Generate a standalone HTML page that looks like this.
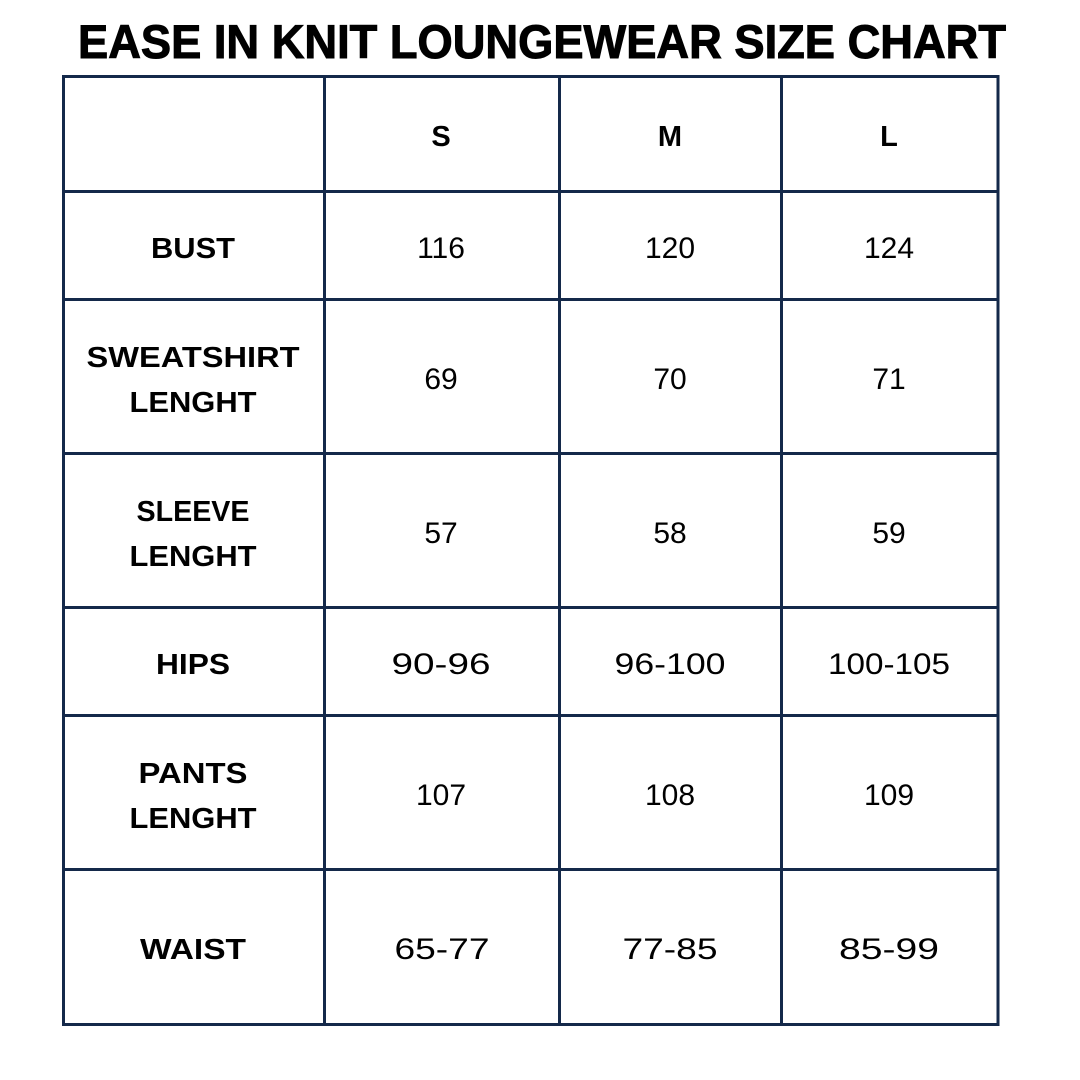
<!DOCTYPE html>
<html><head><meta charset="utf-8"><style>html,body{margin:0;padding:0;background:#fff}svg{display:block}</style></head>
<body>
<svg width="1080" height="1080" viewBox="0 0 1080 1080" xmlns="http://www.w3.org/2000/svg" font-family="Liberation Sans, sans-serif">
<rect width="1080" height="1080" fill="#fff"/>
<text x="542" y="58" text-anchor="middle" font-size="47" font-weight="bold" textLength="928" lengthAdjust="spacingAndGlyphs" fill="#000" stroke="#000" stroke-width="1">EASE IN KNIT LOUNGEWEAR SIZE CHART</text>
<g stroke="#14294a" stroke-width="3" fill="none">
<rect x="63.5" y="76.5" width="934.5" height="948"/>
<line x1="324.5" y1="76" x2="324.5" y2="1025"/>
<line x1="559.5" y1="76" x2="559.5" y2="1025"/>
<line x1="781.5" y1="76" x2="781.5" y2="1025"/>
<line x1="63" y1="191.5" x2="998" y2="191.5"/>
<line x1="63" y1="299.5" x2="998" y2="299.5"/>
<line x1="63" y1="453.5" x2="998" y2="453.5"/>
<line x1="63" y1="607.5" x2="998" y2="607.5"/>
<line x1="63" y1="715.5" x2="998" y2="715.5"/>
<line x1="63" y1="869.5" x2="998" y2="869.5"/>
</g>
<g font-weight="bold" font-size="29" text-anchor="middle" fill="#000" lengthAdjust="spacingAndGlyphs">
<text x="441" y="146">S</text><text x="670" y="146">M</text><text x="889" y="146">L</text>
<text x="193" y="258" textLength="84" lengthAdjust="spacingAndGlyphs">BUST</text>
<text x="193" y="367" textLength="213" lengthAdjust="spacingAndGlyphs">SWEATSHIRT</text>
<text x="193" y="412" textLength="127" lengthAdjust="spacingAndGlyphs">LENGHT</text>
<text x="193" y="521" textLength="113" lengthAdjust="spacingAndGlyphs">SLEEVE</text>
<text x="193" y="566" textLength="127" lengthAdjust="spacingAndGlyphs">LENGHT</text>
<text x="193" y="674" textLength="74" lengthAdjust="spacingAndGlyphs">HIPS</text>
<text x="193" y="783" textLength="109" lengthAdjust="spacingAndGlyphs">PANTS</text>
<text x="193" y="828" textLength="127" lengthAdjust="spacingAndGlyphs">LENGHT</text>
<text x="193" y="959" textLength="106" lengthAdjust="spacingAndGlyphs">WAIST</text>
</g>
<g font-size="30" text-anchor="middle" fill="#000">
<text x="441" y="258">116</text><text x="670" y="258">120</text><text x="889" y="258">124</text>
<text x="441" y="389">69</text><text x="670" y="389">70</text><text x="889" y="389">71</text>
<text x="441" y="543">57</text><text x="670" y="543">58</text><text x="889" y="543">59</text>
<text x="441" y="674" textLength="99" lengthAdjust="spacingAndGlyphs">90-96</text><text x="670" y="674" textLength="111" lengthAdjust="spacingAndGlyphs">96-100</text><text x="889" y="674" textLength="122" lengthAdjust="spacingAndGlyphs">100-105</text>
<text x="441" y="805">107</text><text x="670" y="805">108</text><text x="889" y="805">109</text>
<text x="442" y="959" textLength="95" lengthAdjust="spacingAndGlyphs">65-77</text><text x="670" y="959" textLength="95" lengthAdjust="spacingAndGlyphs">77-85</text><text x="889" y="959" textLength="100" lengthAdjust="spacingAndGlyphs">85-99</text>
</g>
</svg>
</body></html>
